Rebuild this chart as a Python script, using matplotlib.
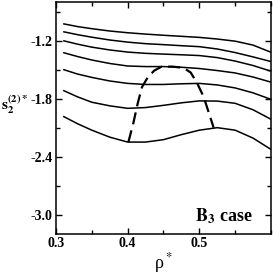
import matplotlib
matplotlib.use("Agg")
import matplotlib.pyplot as plt
from matplotlib.ticker import MultipleLocator, FormatStrFormatter

plt.rcParams['axes.unicode_minus'] = False
plt.rcParams['font.family'] = ['Liberation Serif', 'DejaVu Serif']

rho = [0.31, 0.33, 0.35, 0.375, 0.40, 0.425, 0.45, 0.475, 0.50, 0.525, 0.55, 0.575, 0.60]

curve1 = [-1.025, -1.054, -1.076, -1.100, -1.118, -1.132, -1.144, -1.155, -1.166, -1.183, -1.205, -1.246, -1.320]
curve2 = [-1.107, -1.138, -1.164, -1.193, -1.215, -1.231, -1.241, -1.252, -1.262, -1.286, -1.323, -1.368, -1.416]
curve3 = [-1.200, -1.236, -1.267, -1.296, -1.318, -1.331, -1.339, -1.346, -1.354, -1.375, -1.411, -1.457, -1.516]
curve4 = [-1.323, -1.364, -1.400, -1.436, -1.462, -1.468, -1.468, -1.475, -1.488, -1.509, -1.534, -1.576, -1.629]
curve5 = [-1.498, -1.545, -1.580, -1.617, -1.642, -1.653, -1.653, -1.646, -1.642, -1.658, -1.689, -1.740, -1.807]
curve6 = [-1.714, -1.781, -1.837, -1.874, -1.900, -1.892, -1.869, -1.843, -1.823, -1.825, -1.848, -1.915, -2.013]
curve7 = [-1.982, -2.059, -2.126, -2.198, -2.249, -2.249, -2.224, -2.172, -2.126, -2.100, -2.126, -2.208, -2.325]
curves = [curve1, curve2, curve3, curve4, curve5, curve6, curve7]

dash_rho = [0.401, 0.408, 0.414, 0.420, 0.428, 0.437, 0.447, 0.462, 0.478, 0.488, 0.497, 0.506, 0.513, 0.520]
dash_s = [-2.25, -2.05, -1.85, -1.68, -1.58, -1.51, -1.47, -1.468, -1.481, -1.53, -1.64, -1.78, -1.94, -2.10]

fig = plt.figure(figsize=(2.73, 2.75), dpi=100)
ax = fig.add_axes([0.2051, 0.1491, 0.7875, 0.8436])

for c in curves:
    ax.plot(rho, c, color='black', lw=1.1, solid_capstyle='butt')

ax.plot(dash_rho, dash_s, color='black', lw=1.6, dashes=(5.5, 2.8))

ax.set_xlim(0.3, 0.6)
ax.set_ylim(-3.2, -0.8)

ax.xaxis.set_minor_locator(MultipleLocator(0.05))
ax.yaxis.set_minor_locator(MultipleLocator(0.3))
ax.set_xticks([0.3, 0.4, 0.5])
ax.set_yticks([-3.0, -2.4, -1.8, -1.2])
ax.xaxis.set_major_formatter(FormatStrFormatter('%.1f'))
ax.yaxis.set_major_formatter(FormatStrFormatter('%.1f'))

ax.tick_params(which='both', direction='in', top=True, right=True, width=1.0,
               labelsize=10, pad=2.5)
ax.tick_params(which='major', length=4.5)
ax.tick_params(which='minor', length=3)
for lab in ax.get_xticklabels() + ax.get_yticklabels():
    lab.set_fontweight('bold')
for sp in ax.spines.values():
    sp.set_linewidth(1.1)

fig.text(163.5 / 273, 1 - 263 / 275, 'ρ$^*$', ha='center', va='center',
         fontsize=13, math_fontfamily='stix')
fig.text(1 / 273, 1 - 105 / 275, r'$\mathbf{s_2^{(2)*}}$', ha='left', va='center',
         fontsize=11, math_fontfamily='stix')
ax.text(0.916, 0.056, r'$\mathbf{B_3}$ case', transform=ax.transAxes, ha='right',
        va='baseline', fontsize=13, fontweight='bold', math_fontfamily='stix')

fig.savefig('out.png', dpi=100)
